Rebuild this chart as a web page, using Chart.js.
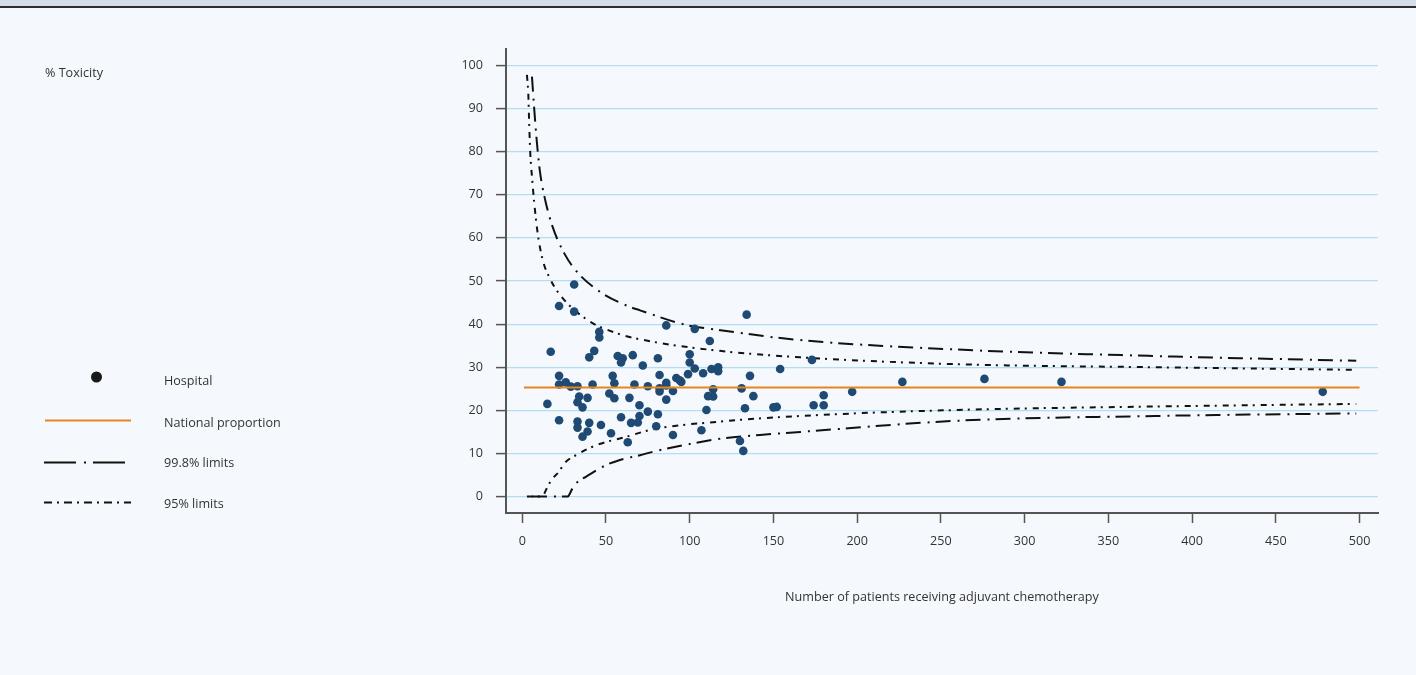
<!DOCTYPE html>
<html>
<head>
<meta charset="utf-8">
<title>% Toxicity funnel plot</title>
<script src="https://cdn.jsdelivr.net/npm/chart.js"></script>
<style>
  body { margin: 0; background: #f5f9fd; }
  canvas { display: block; }
</style>
</head>
<body>
<canvas id="mycanvas" width="1416" height="675"></canvas>
<script>
// hospitals: number of patients treated and % with toxicity
var hospitalPatients = [31, 22, 31, 46, 46, 17, 43, 40, 57, 60, 59, 66, 22, 22, 26, 29, 33, 42, 54, 55,
  67, 15, 34, 33, 39, 36, 52, 55, 64, 70, 22, 33, 33, 40, 47, 39, 36, 59, 53, 63,
  65, 70, 72, 81, 86, 103, 112, 134, 100, 100, 103, 99, 108, 113, 117, 117, 82, 92, 94, 95,
  86, 75, 82, 82, 86, 90, 114, 136, 154, 131, 138, 86, 111, 114, 133, 150, 152, 110, 75, 81,
  69, 80, 90, 107, 130, 132, 173, 174, 180, 180, 197, 227, 276, 322, 478];
var hospitalToxicity = [49.2, 44.2, 42.9, 38.2, 36.9, 33.6, 33.8, 32.3, 32.6, 32.1, 31.1, 32.8, 28.0, 26.0, 26.5, 25.5, 25.6, 26.0, 28.0, 26.3,
  26.0, 21.5, 23.2, 21.9, 22.9, 20.7, 23.9, 22.8, 22.9, 21.2, 17.7, 17.4, 16.0, 17.1, 16.6, 15.1, 13.9, 18.4, 14.7, 12.6,
  17.1, 18.7, 30.4, 32.1, 39.7, 38.9, 36.1, 42.2, 33.0, 31.1, 29.7, 28.4, 28.6, 29.6, 30.0, 29.1, 28.2, 27.5, 27.0, 26.6,
  26.4, 25.6, 25.1, 24.4, 25.8, 24.5, 24.9, 28.0, 29.6, 25.1, 23.3, 22.5, 23.3, 23.2, 20.5, 20.7, 20.8, 20.1, 19.7, 19.1,
  17.2, 16.3, 14.3, 15.4, 12.9, 10.6, 31.7, 21.2, 21.2, 23.5, 24.3, 26.6, 27.3, 26.6, 24.3];

var nationalPatients = [1, 500];
var nationalProportion = [25.3, 25.3];

var upper998Patients = [5.8, 7.2, 8.8, 10.7, 13.7, 18.1, 25.1, 32.5, 46.4, 62.3, 70.3, 98, 118, 166, 260, 378, 498];
var upper998 = [97.4, 89.7, 81.9, 75.0, 68.8, 62.6, 56.4, 52.2, 47.5, 44.3, 43.2, 39.8, 38.6, 36.3, 34.1, 32.6, 31.5];
var lower998Patients = [5.8, 27, 30, 33, 38, 50, 58.3, 70.3, 78, 100, 118, 142, 166, 260, 378, 498];
var lower998 = [0, 0, 1.9, 3.4, 4.6, 7.3, 8.5, 9.6, 10.4, 12.2, 13.4, 14.3, 15.0, 17.6, 18.7, 19.3];

var upper95Patients = [2.8, 3.6, 4.2, 4.8, 5.8, 7.2, 9.2, 12.2, 16.5, 22.5, 38.4, 56.4, 78.2, 118, 166, 260, 378, 497];
var upper95 = [97.8, 93.5, 85.8, 79.6, 74.2, 68.0, 61.1, 54.9, 50.6, 46.8, 41.1, 37.9, 35.9, 33.8, 32.3, 30.7, 30.0, 29.4];
var lower95Patients = [2.8, 12, 12.8, 15, 18.1, 22, 25.1, 34, 44, 62.3, 78, 118, 166, 260, 378, 498];
var lower95 = [0, 0, 0.4, 2.2, 4.2, 5.8, 7.7, 10.0, 11.9, 13.9, 15.6, 17.4, 18.7, 20.1, 20.9, 21.5];

var xTickValues = [0, 50, 100, 150, 200, 250, 300, 350, 400, 450, 500];
var yTickValues = [0, 10, 20, 30, 40, 50, 60, 70, 80, 90, 100];

var FONT = "'Open Sans', sans-serif";
var TEXT = '#333333';
var AXIS = '#555555';
var DOT = '#1e4a73';
var ORANGE = '#e8861e';
var DASH_998 = [15, 7, 2, 6];
var DASH_95 = [6, 5, 2, 6];

function toPoints(xs, ys) {
  var pts = [];
  for (var i in xs) {
    pts.push({ x: xs[i], y: ys[i] });
  }
  return pts;
}

function limitLine(xs, ys, dash) {
  return {
    data: toPoints(xs, ys),
    showLine: true,
    borderColor: '#111111',
    borderWidth: 2,
    borderDash: dash,
    pointRadius: 0,
    cubicInterpolationMode: 'monotone',
    fill: false,
    order: 3
  };
}

// page background, header band, left-hand key and the y caption
var panel = {
  id: 'panel',
  beforeDraw: function(chart) {
    var ctx = chart.ctx;
    ctx.save();
    ctx.fillStyle = '#f5f9fd';
    ctx.fillRect(0, 0, chart.width, chart.height);
    ctx.fillStyle = '#d4dde8';
    ctx.fillRect(0, 0, chart.width, 6);
    ctx.fillStyle = '#2e2e2e';
    ctx.fillRect(0, 6, chart.width, 2);
    ctx.restore();
  },
  afterDraw: function(chart) {
    var ctx = chart.ctx;
    ctx.save();
    ctx.font = '12.6px ' + FONT;
    ctx.fillStyle = TEXT;
    ctx.textBaseline = 'middle';
    ctx.textAlign = 'left';
    ctx.fillText('% Toxicity', 45, 73);

    // key
    ctx.fillStyle = '#1a1a1a';
    ctx.beginPath();
    ctx.arc(96.5, 377, 5.5, 0, Math.PI * 2);
    ctx.fill();

    ctx.lineWidth = 2;
    ctx.strokeStyle = ORANGE;
    ctx.beginPath();
    ctx.moveTo(45, 420.5);
    ctx.lineTo(131, 420.5);
    ctx.stroke();

    ctx.strokeStyle = '#111111';
    ctx.setLineDash([32, 8, 2, 7]);
    ctx.beginPath();
    ctx.moveTo(44, 462.5);
    ctx.lineTo(131, 462.5);
    ctx.stroke();

    ctx.setLineDash([8, 5, 2, 5]);
    ctx.beginPath();
    ctx.moveTo(44, 502.5);
    ctx.lineTo(131, 502.5);
    ctx.stroke();
    ctx.setLineDash([]);

    ctx.fillStyle = TEXT;
    ctx.fillText('Hospital', 164, 381);
    ctx.fillText('National proportion', 164, 423);
    ctx.fillText('99.8% limits', 164, 463);
    ctx.fillText('95% limits', 164, 504);
    ctx.restore();
  }
};

var ctx = document.getElementById('mycanvas');

var funnel = new Chart(ctx, {
  type: 'scatter',
  data: {
    datasets: [
      {
        label: 'National proportion',
        data: toPoints(nationalPatients, nationalProportion),
        showLine: true,
        borderColor: ORANGE,
        borderWidth: 2.2,
        pointRadius: 0,
        order: 1
      },
      {
        label: 'Hospital',
        data: toPoints(hospitalPatients, hospitalToxicity),
        backgroundColor: DOT,
        borderColor: DOT,
        borderWidth: 0,
        pointRadius: 4.3,
        order: 2
      },
      limitLine(upper998Patients, upper998, DASH_998),
      limitLine(lower998Patients, lower998, DASH_998),
      limitLine(upper95Patients, upper95, DASH_95),
      limitLine(lower95Patients, lower95, DASH_95)
    ]
  },
  options: {
    responsive: false,
    animation: false,
    devicePixelRatio: 1,
    layout: { padding: { left: 446, top: 49, right: 38, bottom: 0 } },
    plugins: {
      legend: { display: false },
      tooltip: { enabled: false }
    },
    scales: {
      x: {
        type: 'linear',
        min: -9.7,
        max: 511,
        afterBuildTicks: function(scale) {
          scale.ticks = xTickValues.map(function(v) { return { value: v }; });
        },
        afterFit: function(scale) { scale.height = 162; },
        grid: { drawOnChartArea: false, tickLength: 10, tickColor: AXIS, tickWidth: 1.5 },
        border: { color: AXIS, width: 2 },
        ticks: { color: TEXT, font: { family: FONT, size: 12.6 }, padding: 11, maxRotation: 0, autoSkip: false },
        title: {
          display: true,
          text: 'Number of patients receiving adjuvant chemotherapy',
          color: TEXT,
          font: { family: FONT, size: 12.6 },
          padding: { top: 0, bottom: 70 }
        }
      },
      y: {
        min: -3.8,
        max: 103.8,
        afterBuildTicks: function(scale) {
          scale.ticks = yTickValues.map(function(v) { return { value: v }; });
        },
        afterFit: function(scale) { scale.width = 60; },
        grid: { color: '#b3ddf3', lineWidth: 1.2, tickLength: 10, tickColor: AXIS, tickWidth: 1.5 },
        border: { color: AXIS, width: 2 },
        ticks: { color: TEXT, font: { family: FONT, size: 12.6 }, padding: 13 }
      }
    }
  },
  plugins: [panel]
});
</script>
</body>
</html>
